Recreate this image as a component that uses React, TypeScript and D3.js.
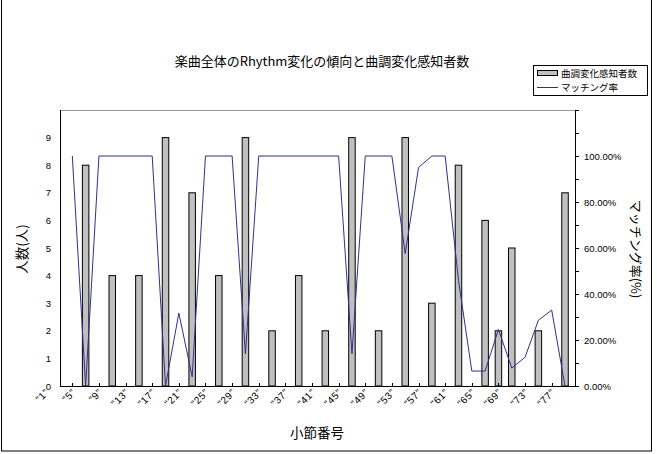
import React from "react";
import * as d3 from "d3";

// measure numbers of each plotted category
const measures = [5, 7, 9, 11, 13, 15, 17, 19, 21, 23, 25, 27, 29, 31, 33, 35, 37, 39, 41, 43, 45, 47, 49, 51, 53, 55, 57, 59, 61, 63, 65, 67, 69, 71, 73, 75, 77, 79];
// 曲調変化感知者数 (people), null = no bar
const perceivers: (number | null)[] = [null, 8, null, 4, null, 4, null, 9, null, 7, null, 4, null, 9, null, 2, null, 4, null, 2, null, 9, null, 2, null, 9, null, 3, null, 8, null, 6, 2, 5, null, 2, null, 7];
// マッチング率 (%)
const matchRate = [100, 0, 100, 100, 100, 100, 100, 0, 31.7, 4, 100, 100, 100, 14, 100, 100, 100, 100, 100, 100, 100, 14, 100, 100, 100, 57.6, 95, 100, 100, 46, 6.5, 6.5, 24.6, 7.8, 12.5, 28.6, 33, 0];
// x tick labels (measure numbers)
const xTickLabels = [1, 5, 9, 13, 17, 21, 25, 29, 33, 37, 41, 45, 49, 53, 57, 61, 65, 69, 73, 77];
const leftTicks = [0, 1, 2, 3, 4, 5, 6, 7, 8, 9];
const rightLabelTicks = [0, 20, 40, 60, 80, 100];
const rightMinorTicks = [0, 10, 20, 30, 40, 50, 60, 70, 80, 90, 100, 110, 120];

const TITLE = "楽曲全体のRhythm変化の傾向と曲調変化感知者数";
const JP = "'Noto Sans CJK JP', sans-serif";
const LAT = "'Liberation Sans', Arial, sans-serif";

export default function App() {
  const W = 657, H = 454;
  const L = 60, R = 575, T = 110, B = 386;
  const x = d3.scaleLinear().domain([3.15, 80.5]).range([L, R]);
  const yL = d3.scaleLinear().domain([0, 10]).range([B, T]);
  const yR = d3.scaleLinear().domain([0, 120]).range([B, T]);
  const barW = 6.5;
  const lineGen = d3
    .line<number>()
    .x((_, i) => x(measures[i]))
    .y((d) => yR(d));
  const lineColor = "#30308f";

  return (
    <svg width={W} height={H} style={{ position: "absolute", left: 0, top: 0 }}>
      <rect x={0} y={0} width={W} height={H} fill="#fff" />
      <rect x={1.5} y={-2} width={650} height={453} fill="none" stroke="#000" strokeWidth={1} />
      <text x={322} y={66} textAnchor="middle" fontFamily={JP} fontSize={13}>
        {TITLE}
      </text>
      {/* plot frame */}
      <line x1={L} x2={R} y1={T + 0.5} y2={T + 0.5} stroke="#999" />
      {/* bars */}
      {perceivers.map((v, i) =>
        v == null ? null : (
          <rect
            key={i}
            x={x(measures[i]) - barW / 2}
            y={yL(v)}
            width={barW}
            height={B - yL(v)}
            fill="#c0c0c0"
            stroke="#000"
            strokeWidth={1}
          />
        )
      )}
      {/* line */}
      <path d={lineGen(matchRate) || ""} fill="none" stroke={lineColor} strokeWidth={1} />
      {/* axes */}
      <line x1={L + 0.5} x2={L + 0.5} y1={T} y2={B} stroke="#000" />
      <line x1={R + 0.5} x2={R + 0.5} y1={T} y2={B} stroke="#000" />
      <line x1={L} x2={R + 1} y1={B + 0.5} y2={B + 0.5} stroke="#000" />
      {leftTicks.map((t) => (
        <text key={t} x={51} y={yL(t) + 3.5} textAnchor="end" fontFamily={LAT} fontSize={9.5}>
          {t}
        </text>
      ))}
      {rightMinorTicks.map((t) => (
        <line key={t} x1={R} x2={R + 4} y1={Math.round(yR(t)) + 0.5} y2={Math.round(yR(t)) + 0.5} stroke="#000" />
      ))}
      {rightLabelTicks.map((t) => (
        <text key={t} x={584} y={yR(t) + 3.5} textAnchor="start" fontFamily={LAT} fontSize={9.5}>
          {t.toFixed(2) + "%"}
        </text>
      ))}
      {xTickLabels.map((m) => (
        <g key={m}>
          {x(m) > L && (
            <line x1={Math.round(x(m)) + 0.5} x2={Math.round(x(m)) + 0.5} y1={B - 3} y2={B} stroke="#000" />
          )}
          <text
            transform={`translate(${x(m) + 4},${B + 7}) rotate(-45)`}
            textAnchor="end"
            fontFamily={LAT}
            fontSize={10}
            letterSpacing={0.5}
          >
            {`"${m}"`}
          </text>
        </g>
      ))}
      {/* axis titles */}
      <text x={317} y={438} textAnchor="middle" fontFamily={JP} fontSize={13.5}>
        小節番号
      </text>
      <text transform={`translate(27,249) rotate(-90)`} textAnchor="middle" fontFamily={JP} fontSize={13.5}>
        人数(人)
      </text>
      <text transform={`translate(631,249) rotate(90)`} textAnchor="middle" fontFamily={JP} fontSize={13}>
        マッチング率(%)
      </text>
      {/* legend */}
      <rect x={533.5} y={65.5} width={114} height={30} fill="#fff" stroke="#000" />
      <rect x={537.5} y={70.5} width={20} height={5} fill="#c0c0c0" stroke="#000" />
      <text x={561} y={76.5} fontFamily={JP} fontSize={9.5}>
        曲調変化感知者数
      </text>
      <line x1={537} x2={558} y1={87.5} y2={87.5} stroke={lineColor} />
      <text x={561} y={91} fontFamily={JP} fontSize={9.5}>
        マッチング率
      </text>
    </svg>
  );
}
